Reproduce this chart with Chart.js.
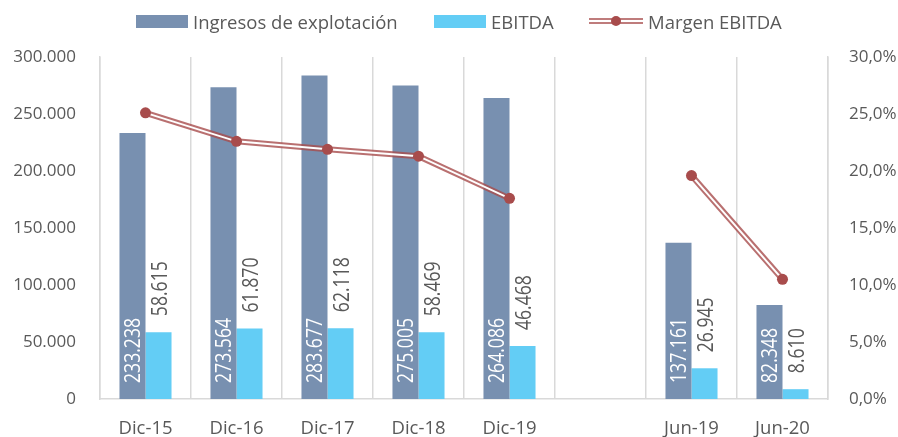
<!DOCTYPE html>
<html>
<head>
<meta charset="utf-8">
<script src="https://cdn.jsdelivr.net/npm/chart.js@4/dist/chart.umd.min.js"></script>
<style>
  html, body { margin: 0; padding: 0; background: #fff; }
  #wrap { position: relative; width: 898px; height: 437px; overflow: hidden; }
  #legend { position: absolute; top: 8px; left: 0; width: 898px; height: 26px; font-family: "Open Sans", sans-serif; font-size: 18.5px; color: #595959; }
  .li { position: absolute; top: 0; height: 26px; display: flex; align-items: center; white-space: nowrap; }
  .box { width: 52px; height: 13px; margin-right: 5px; }
  canvas { position: absolute; left: 0; top: 0; }
</style>
</head>
<body>
<div id="wrap">
  <canvas id="c" width="898" height="437"></canvas>
  <div id="legend">
    <div class="li" style="left:136px"><span class="box" style="background:#7890b0"></span><span>Ingresos de explotación</span></div>
    <div class="li" style="left:434px"><span class="box" style="background:#63cdf5"></span><span>EBITDA</span></div>
    <div class="li" style="left:588px"><svg width="56" height="14" style="margin-right:4px"><line x1="1" y1="7" x2="55" y2="7" stroke="rgba(170,80,80,0.75)" stroke-width="6"/><line x1="1" y1="7" x2="55" y2="7" stroke="#fff" stroke-width="2"/><circle cx="28" cy="7" r="5" fill="#a84c4c"/></svg><span>Margen EBITDA</span></div>
  </div>
</div>
<script>
const categories = ["Dic-15", "Dic-16", "Dic-17", "Dic-18", "Dic-19", "", "Jun-19", "Jun-20"];
const ingresos = [233238, 273564, 283677, 275005, 264086, null, 137161, 82348];
const ebitda = [58615, 61870, 62118, 58469, 46468, null, 26945, 8610];
const margen = [25.1, 22.6, 21.9, 21.3, 17.6, null, 19.6, 10.5];
const leftTicks = [0, 50000, 100000, 150000, 200000, 250000, 300000];
const rightTicks = [0, 5, 10, 15, 20, 25, 30];

const TXT = '#595959';
const GRID = '#d9d9d9';
const FONT = '"Open Sans", sans-serif';

function fmtThousands(v) {
  const s = Math.round(v).toString();
  return s.replace(/\B(?=(\d{3})+(?!\d))/g, '.');
}
function fmtPct(v) {
  return v.toFixed(1).replace('.', ',') + '%';
}

const labelPlugin = {
  id: 'barLabels',
  afterDatasetsDraw(chart) {
    const ctx = chart.ctx;
    ctx.save();
    ctx.font = '22px "Open Sans", sans-serif';
    ctx.textBaseline = 'middle';
    ctx.textAlign = 'left';
    const m0 = chart.getDatasetMeta(3);
    m0.data.forEach((el, i) => {
      if (ingresos[i] == null) return;
      ctx.save();
      ctx.translate(el.x + 1.5, el.base - 16);
      ctx.rotate(-Math.PI / 2);
      ctx.scale(0.8, 1);
      ctx.fillStyle = '#ffffff';
      ctx.fillText(fmtThousands(ingresos[i]), 0, 0);
      ctx.restore();
    });
    const m1 = chart.getDatasetMeta(4);
    m1.data.forEach((el, i) => {
      if (ebitda[i] == null) return;
      ctx.save();
      ctx.translate(el.x + 2, el.y - 16);
      ctx.rotate(-Math.PI / 2);
      ctx.scale(0.8, 1);
      ctx.fillStyle = TXT;
      ctx.fillText(fmtThousands(ebitda[i]), 0, 0);
      ctx.restore();
    });
    ctx.restore();
  }
};

new Chart(document.getElementById('c'), {
  data: {
    labels: categories,
    datasets: [
      { type: 'line', label: 'Margen EBITDA markers', data: margen, yAxisID: 'y1', showLine: false,
        pointRadius: 5.5, pointHoverRadius: 5.5, pointBackgroundColor: '#a84c4c', pointBorderColor: '#a84c4c', pointBorderWidth: 0, order: -3 },
      { type: 'line', label: 'Margen EBITDA inner', data: margen, yAxisID: 'y1', borderColor: '#ffffff', borderWidth: 2,
        pointRadius: 0, spanGaps: false, order: -2 },
      { type: 'line', label: 'Margen EBITDA', data: margen, yAxisID: 'y1', borderColor: 'rgba(168,76,76,0.8)', borderWidth: 6,
        pointRadius: 0, spanGaps: false, order: -1 },
      { type: 'bar', label: 'Ingresos de explotación', data: ingresos, yAxisID: 'y', backgroundColor: '#7890b0',
        barPercentage: 1, categoryPercentage: 0.572, order: 1 },
      { type: 'bar', label: 'EBITDA', data: ebitda, yAxisID: 'y', backgroundColor: '#63cdf5',
        barPercentage: 1, categoryPercentage: 0.572, order: 2 }
    ]
  },
  options: {
    responsive: false,
    animation: false,
    events: [],
    layout: { padding: { top: 57, left: 0, right: 0, bottom: 0 } },
    plugins: { legend: { display: false }, tooltip: { enabled: false } },
    scales: {
      x: {
        offset: true,
        grid: { display: true, offset: true, color: GRID, lineWidth: 1.5, drawTicks: false },
        border: { display: true, color: GRID, width: 1.5 },
        ticks: { color: TXT, font: { family: FONT, size: 18.5 }, padding: 19, maxRotation: 0, autoSkip: false },
        afterFit(s) { s.height = 38; }
      },
      y: {
        position: 'left',
        min: 0, max: 300000,
        afterBuildTicks(s) { s.ticks = leftTicks.map(v => ({ value: v })); },
        grid: { display: false, drawTicks: false },
        border: { display: true, color: GRID, width: 1.5 },
        ticks: { color: TXT, font: { family: FONT, size: 17 }, padding: 24, callback: v => fmtThousands(v) },
        afterFit(s) { s.width = 100; }
      },
      y1: {
        position: 'right',
        min: 0, max: 30,
        afterBuildTicks(s) { s.ticks = rightTicks.map(v => ({ value: v })); },
        grid: { display: false, drawTicks: false },
        border: { display: true, color: GRID, width: 1.5 },
        ticks: { color: TXT, font: { family: FONT, size: 17 }, padding: 21, callback: v => fmtPct(v) },
        afterFit(s) { s.width = 70; }
      }
    }
  },
  plugins: [labelPlugin]
});
</script>
</body>
</html>
